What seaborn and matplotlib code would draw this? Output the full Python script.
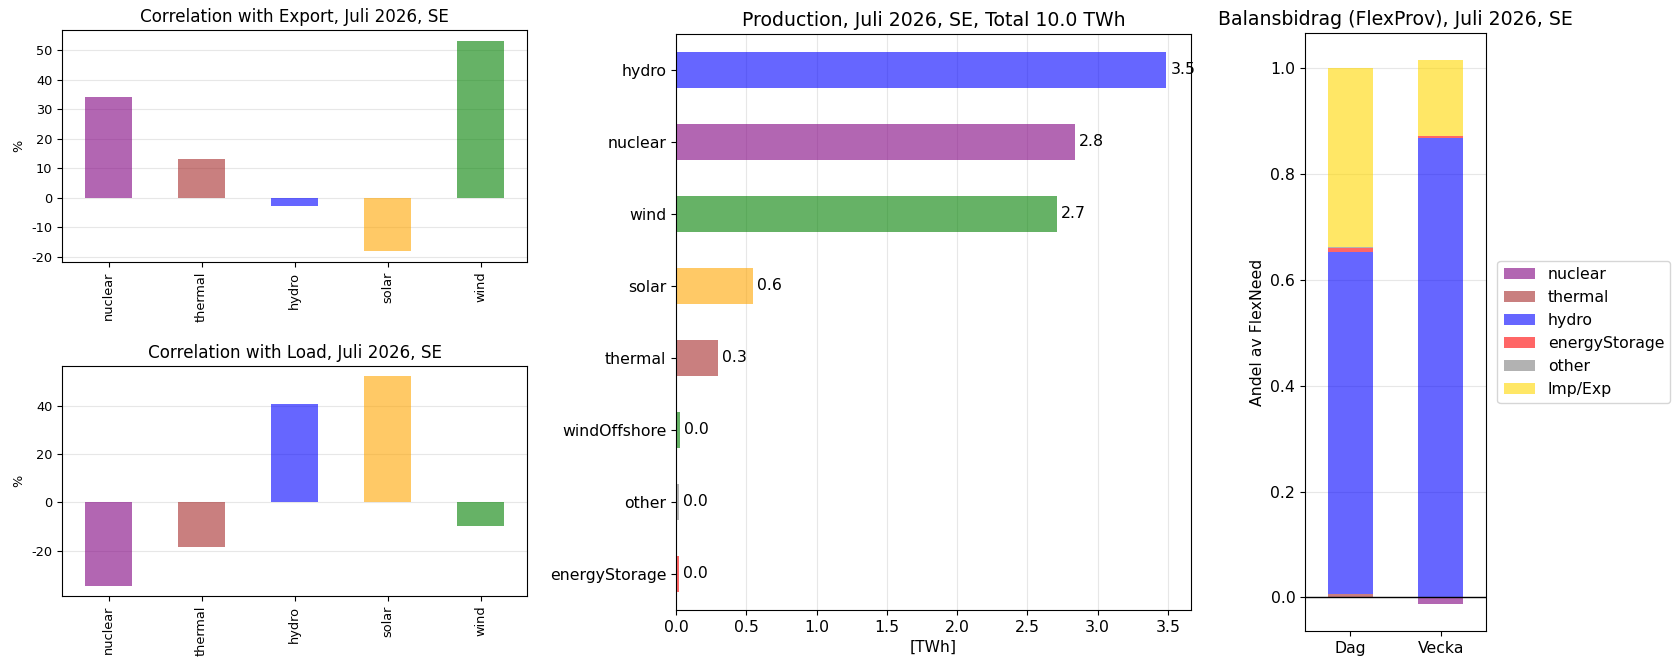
import numpy as np
import pandas as pd
import matplotlib
matplotlib.use("Agg")
import matplotlib.pyplot as plt
import seaborn as sns

plt.rcParams['axes.unicode_minus'] = False

# colours per production type (drawn with alpha 0.6)
colors = {
    'nuclear': 'purple', 'thermal': 'brown', 'hydro': 'blue', 'solar': 'orange',
    'wind': 'green', 'windOffshore': 'green', 'other': 'gray',
    'energyStorage': 'red', 'Imp/Exp': 'gold',
}

# correlation panels
corr_types = ['nuclear', 'thermal', 'hydro', 'solar', 'wind']
corr_export = [34.1, 13.0, -2.6, -18.1, 53.2]
corr_load = [-34.5, -18.5, 40.6, 52.2, -9.8]

# production panel
prod_types = ['hydro', 'nuclear', 'wind', 'solar', 'thermal', 'windOffshore', 'other', 'energyStorage']
prod_twh = [3.49, 2.84, 2.71, 0.55, 0.30, 0.03, 0.02, 0.02]

# balance contribution panel
flex_periods = ['Dag', 'Vecka']
flex_types = ['nuclear', 'thermal', 'hydro', 'energyStorage', 'other', 'Imp/Exp']
flex_nuclear = [0.0, -0.012]
flex_thermal = [0.006, 0.0]
flex_hydro = [0.646, 0.868]
flex_energyStorage = [0.008, 0.003]
flex_other = [0.002, 0.001]
flex_impexp = [0.338, 0.143]

month = 'Juli 2026'
area = 'SE'

W, H = 1678, 670
fig = plt.figure(figsize=(W / 100, H / 100), dpi=100)


def box(x0, y0, x1, y1):
    return [x0 / W, 1 - y1 / H, (x1 - x0) / W, (y1 - y0) / H]


ax_exp = fig.add_axes(box(62, 30, 527, 262))
ax_load = fig.add_axes(box(62, 366, 527, 596))
ax_prod = fig.add_axes(box(676, 34, 1191, 610))
ax_flex = fig.add_axes(box(1305, 33, 1486, 631))


def corr_plot(ax, vals, title):
    df = pd.DataFrame({'type': corr_types, 'corr': vals})
    sns.barplot(data=df, x='type', y='corr', hue='type', palette=colors,
                width=0.5, alpha=0.6, legend=False, ax=ax, saturation=1)
    ax.margins(y=0.05)
    ax.set_title(title, fontsize=12.1)
    ax.set_xlabel('')
    ax.set_ylabel('%', fontsize=9.3)
    ax.tick_params(axis='x', labelrotation=90, labelsize=9.3)
    ax.tick_params(axis='y', labelsize=9.3)
    ax.grid(axis='y', alpha=0.3)
    ax.set_axisbelow(True)


corr_plot(ax_exp, corr_export, f'Correlation with Export, {month}, {area}')
corr_plot(ax_load, corr_load, f'Correlation with Load, {month}, {area}')

# production
prod_df = pd.DataFrame({'type': prod_types, 'twh': prod_twh})
sns.barplot(data=prod_df, y='type', x='twh', hue='type', palette=colors, orient='h',
            width=0.5, alpha=0.6, legend=False, ax=ax_prod, saturation=1)
for c in ax_prod.containers:
    ax_prod.bar_label(c, fmt='%.1f', padding=3, fontsize=11.3)
ax_prod.set_title(f'Production, {month}, {area}, Total {sum(prod_twh):.1f} TWh', fontsize=13.6)
ax_prod.set_xlabel('[TWh]', fontsize=11.2)
ax_prod.set_ylabel('')
ax_prod.tick_params(labelsize=11.3)
ax_prod.margins(x=0.05)
ax_prod.set_xlim(left=0)
ax_prod.grid(axis='x', alpha=0.3)
ax_prod.set_axisbelow(True)

# stacked balance contributions, positive and negative parts stacked separately
flex_df = pd.DataFrame({
    'nuclear': flex_nuclear, 'thermal': flex_thermal, 'hydro': flex_hydro,
    'energyStorage': flex_energyStorage, 'other': flex_other, 'Imp/Exp': flex_impexp,
}, index=flex_periods)
xpos = np.arange(len(flex_periods))
pos_bottom = np.zeros(len(flex_periods))
neg_bottom = np.zeros(len(flex_periods))
for t in flex_types:
    v = flex_df[t].to_numpy()
    b = np.where(v >= 0, pos_bottom, neg_bottom)
    ax_flex.bar(xpos, v, 0.5, bottom=b, color=colors[t], alpha=0.6, label=t)
    pos_bottom += np.clip(v, 0, None)
    neg_bottom += np.clip(v, None, 0)
ax_flex.axhline(0, color='black', lw=1)
ax_flex.set_xticks(xpos, flex_periods)
ax_flex.set_xlim(-0.5, len(flex_periods) - 0.5)
ax_flex.set_title(f'Balansbidrag (FlexProv), {month}, {area}', fontsize=13.6)
ax_flex.set_ylabel('Andel av FlexNeed', fontsize=11.3)
ax_flex.tick_params(labelsize=11.3)
ax_flex.grid(axis='y', alpha=0.3)
ax_flex.set_axisbelow(True)
ax_flex.legend(loc='center left', bbox_to_anchor=(1.02, 0.5), fontsize=11.3)

fig.savefig('out.png', dpi=100)
